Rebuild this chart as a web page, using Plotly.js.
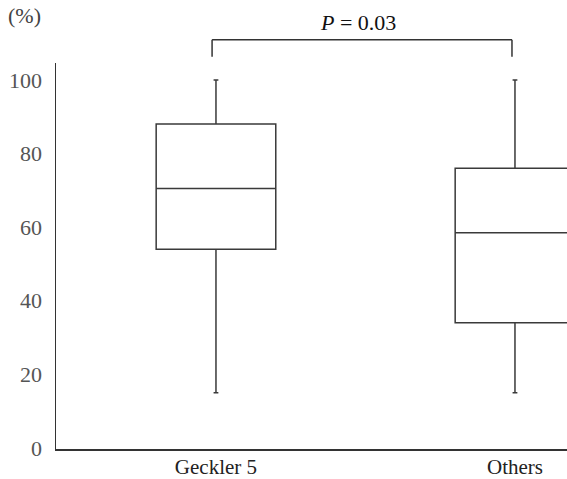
<!DOCTYPE html>
<html>
<head>
<meta charset="utf-8">
<script src="https://cdn.plot.ly/plotly-3.0.1.min.js"></script>
<style>html,body{margin:0;padding:0;background:#fff;}#chart{width:567px;height:479px;}</style>
</head>
<body>
<div id="chart"></div>
<script>
// Data
const categories = ['Geckler 5', 'Others'];
const lowerWhisker = [15, 15];
const q1Values = [54, 34];
const medianValues = [70.5, 58.5];
const q3Values = [88, 76];
const upperWhisker = [100, 100];
const yTickValues = [0, 20, 40, 60, 80, 100];
const pValueLabel = '<i>P</i> = 0.03';

const serif = 'Times New Roman, DejaVu Serif, serif';

const trace = {
  type: 'box',
  x: categories,
  q1: q1Values,
  median: medianValues,
  q3: q3Values,
  lowerfence: lowerWhisker,
  upperfence: upperWhisker,
  width: 0.4,
  whiskerwidth: 0.04,
  fillcolor: '#ffffff',
  line: {color: '#3a3a3a', width: 1.5},
  boxpoints: false,
  hoverinfo: 'skip',
  showlegend: false
};

const layout = {
  width: 567,
  height: 479,
  margin: {l: 56, r: 0, t: 63, b: 30},
  paper_bgcolor: '#ffffff',
  plot_bgcolor: '#ffffff',
  showlegend: false,
  font: {family: serif},
  xaxis: {
    type: 'category',
    range: [-0.535, 1.174],
    showline: true,
    linecolor: '#333',
    linewidth: 1.5,
    showgrid: false,
    zeroline: false,
    ticks: '',
    ticklabelstandoff: -2,
    tickfont: {family: serif, size: 21, color: '#222'},
    fixedrange: true
  },
  yaxis: {
    range: [-0.3, 104.6],
    tickvals: yTickValues,
    ticktext: yTickValues.map(String),
    showline: true,
    linecolor: '#333',
    linewidth: 1.5,
    showgrid: false,
    zeroline: false,
    ticks: '',
    ticklabelstandoff: 8,
    tickfont: {family: serif, size: 22, color: '#555'},
    fixedrange: true
  },
  shapes: [
    {type: 'line', xref: 'x', yref: 'paper', x0: -0.013, x1: 0.99, y0: 1.06, y1: 1.06, line: {color: '#333', width: 1.5}},
    {type: 'line', xref: 'x', yref: 'paper', x0: -0.013, x1: -0.013, y0: 1.06, y1: 1.016, line: {color: '#333', width: 1.5}},
    {type: 'line', xref: 'x', yref: 'paper', x0: 0.99, x1: 0.99, y0: 1.06, y1: 1.016, line: {color: '#333', width: 1.5}}
  ],
  annotations: [
    {text: pValueLabel, xref: 'x', yref: 'paper', x: 0.475, y: 1.106, showarrow: false,
     font: {family: serif, size: 22, color: '#111'}, xanchor: 'center', yanchor: 'middle'},
    {text: '(%)', xref: 'paper', yref: 'paper', x: -0.061, y: 1.124, showarrow: false,
     font: {family: serif, size: 22, color: '#444'}, xanchor: 'center', yanchor: 'middle'}
  ]
};

Plotly.newPlot('chart', [trace], layout, {staticPlot: true, displayModeBar: false});
</script>
</body>
</html>
